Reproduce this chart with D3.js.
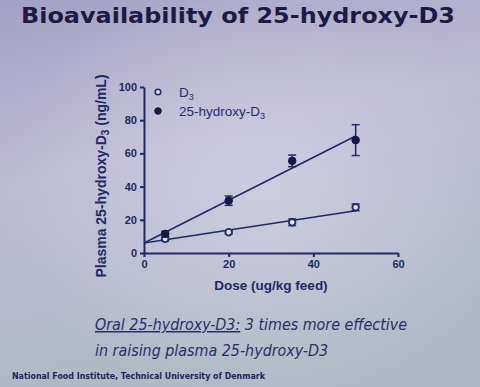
<!DOCTYPE html>
<html>
<head>
<meta charset="utf-8">
<script src="https://cdn.jsdelivr.net/npm/d3@7"></script>
<style>
  html, body { margin: 0; padding: 0; }
  body { width: 480px; height: 387px; overflow: hidden; }
</style>
</head>
<body>
<div id="slide"></div>
<script>
// values
var doses      = [5, 20, 35, 50];
var d3Mean     = [8.5, 12.5, 18.5, 27.5];
var d3Err      = [1.2, 1.0, 2.0, 2.0];
var ohMean     = [11.5, 31.5, 55.5, 68];
var ohErr      = [1.5, 2.8, 3.5, 9.3];
var fitD3      = [[0, 6], [50, 25.5]];
var fitOH      = [[0, 6], [50, 70.5]];
var xTicks     = [0, 20, 40, 60];
var yTicks     = [0, 20, 40, 60, 80, 100];
var legendKeys = ["D3", "25-hydroxy-D3"];

var w = 480, h = 387,
    navy = "#1f2a66",
    x = d3.scaleLinear().domain([0, 60]).range([144, 398]),
    y = d3.scaleLinear().domain([0, 100]).range([253, 87]);

var svg = d3.select("#slide")
  .append("svg")
  .attr("width", w)
  .attr("height", h)
;

// photographed projector background
var defs = svg.append("defs");
var lg = defs.append("linearGradient")
  .attr("id", "bg")
  .attr("x1", 0).attr("y1", 0).attr("x2", 0.3).attr("y2", 1);
lg.append("stop").attr("offset", "0%").attr("stop-color", "#a4a0c4");
lg.append("stop").attr("offset", "45%").attr("stop-color", "#bdbad5");
lg.append("stop").attr("offset", "100%").attr("stop-color", "#adb9c3");

var rg = defs.append("radialGradient")
  .attr("id", "glow")
  .attr("cx", 0.55).attr("cy", 0.5).attr("r", 0.55);
rg.append("stop").attr("offset", "0%").attr("stop-color", "#d4d2e4").attr("stop-opacity", 0.75);
rg.append("stop").attr("offset", "100%").attr("stop-color", "#d4d2e4").attr("stop-opacity", 0);

svg.append("rect").attr("width", w).attr("height", h).style("fill", "url(#bg)");
svg.append("rect").attr("width", w).attr("height", h).style("fill", "url(#glow)");

// title
svg.append("text")
  .attr("x", 21)
  .attr("y", 23)
  .attr("textLength", 434)
  .attr("lengthAdjust", "spacingAndGlyphs")
  .style("font", "bold 22px 'DejaVu Sans'")
  .style("fill", "#1b1b45")
  .text("Bioavailability of 25-hydroxy-D3")
;

// axes
var yAxis = d3.axisLeft(y).tickValues(yTicks).tickSize(4).tickSizeOuter(0).tickPadding(3);
var xAxis = d3.axisBottom(x).tickValues(xTicks).tickSize(4).tickSizeOuter(0).tickPadding(3);

var gy = svg.append("g").attr("transform", "translate(" + x(0) + ",0)").call(yAxis);
var gx = svg.append("g").attr("transform", "translate(0," + y(0) + ")").call(xAxis);

[gx, gy].forEach(function(g) {
  g.selectAll("path, line").style("stroke", navy).style("stroke-width", 2);
  g.selectAll("text")
    .style("font", "bold 11px 'Liberation Sans'")
    .style("fill", navy);
});

// axis titles
svg.append("text")
  .attr("x", 271)
  .attr("y", 290)
  .attr("text-anchor", "middle")
  .style("font", "bold 13.5px 'Liberation Sans'")
  .style("fill", navy)
  .text("Dose (ug/kg feed)")
;

var ylab = svg.append("text")
  .attr("transform", "translate(106,176) rotate(-90)")
  .attr("text-anchor", "middle")
  .style("font", "bold 14px 'Liberation Sans'")
  .style("fill", navy);
ylab.append("tspan").text("Plasma 25-hydroxy-D");
ylab.append("tspan").attr("dy", 3).style("font-size", "10px").text("3");
ylab.append("tspan").attr("dy", -3).text(" (ng/mL)");

// fitted lines
var line = d3.line()
  .x(function(d) { return x(d[0]); })
  .y(function(d) { return y(d[1]); })
;

[fitD3, fitOH].forEach(function(f) {
  svg.append("path")
    .attr("d", line(f))
    .style("stroke", navy)
    .style("stroke-width", 1.5)
    .style("fill", "none");
});

// error bars + points
function drawSeries(mean, err, filled) {
  var g = svg.append("g");
  doses.forEach(function(d, i) {
    var cx = x(d), lo = y(mean[i] - err[i]), hi = y(mean[i] + err[i]);
    g.append("line").attr("x1", cx).attr("x2", cx).attr("y1", lo).attr("y2", hi)
      .style("stroke", navy).style("stroke-width", 1.5);
    [lo, hi].forEach(function(yy) {
      g.append("line").attr("x1", cx - 4).attr("x2", cx + 4).attr("y1", yy).attr("y2", yy)
        .style("stroke", navy).style("stroke-width", 1.5);
    });
  });
  g.selectAll("circle")
    .data(mean)
    .enter()
    .append("circle")
    .attr("cx", function(d, i) { return x(doses[i]); })
    .attr("cy", function(d) { return y(d); })
    .attr("r", filled ? 3.8 : 3.3)
    .style("fill", filled ? "#141a45" : "#dddce9")
    .style("stroke", filled ? "#141a45" : navy)
    .style("stroke-width", filled ? 1 : 1.8)
  ;
}
drawSeries(d3Mean, d3Err, false);
drawSeries(ohMean, ohErr, true);

// legend
legendKeys.forEach(function(k, i) {
  var ly = 92 + i * 19;
  svg.append("circle")
    .attr("cx", 158).attr("cy", ly)
    .attr("r", i ? 3.3 : 2.8)
    .style("fill", i ? "#141a45" : "#dddce9")
    .style("stroke", i ? "#141a45" : navy)
    .style("stroke-width", i ? 1 : 1.6);
  var t = svg.append("text")
    .attr("x", 179).attr("y", ly + 5)
    .style("font", "13.5px 'Liberation Sans'")
    .style("fill", "#24306e");
  t.append("tspan").text(k.slice(0, -1));
  t.append("tspan").attr("dy", 3).style("font-size", "9px").text(k.slice(-1));
});

// takeaway text
var t1 = svg.append("text")
  .attr("x", 95).attr("y", 330)
  .attr("textLength", 312)
  .attr("lengthAdjust", "spacingAndGlyphs")
  .style("font", "italic 15px 'DejaVu Sans'")
  .style("fill", "#28306a");
t1.append("tspan").style("text-decoration", "underline").text("Oral 25-hydroxy-D3:");
t1.append("tspan").text(" 3 times more effective");

svg.append("text")
  .attr("x", 95).attr("y", 356)
  .attr("textLength", 233)
  .attr("lengthAdjust", "spacingAndGlyphs")
  .style("font", "italic 15px 'DejaVu Sans'")
  .style("fill", "#28306a")
  .text("in raising plasma 25-hydroxy-D3")
;

svg.append("text")
  .attr("x", 12).attr("y", 379)
  .attr("textLength", 253)
  .attr("lengthAdjust", "spacingAndGlyphs")
  .style("font", "bold 8.5px 'DejaVu Sans'")
  .style("fill", "#1c2468")
  .text("National Food Institute, Technical University of Denmark")
;
</script>
</body>
</html>
